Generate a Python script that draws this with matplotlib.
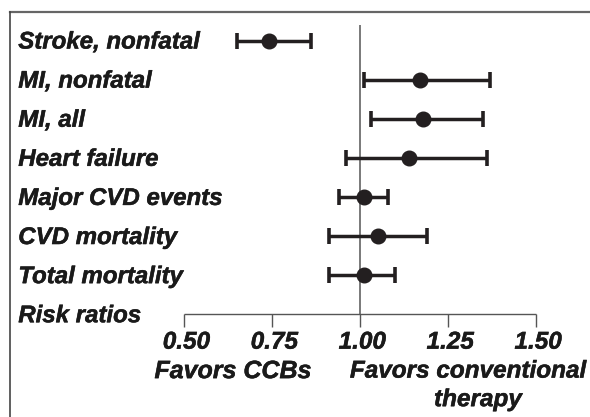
import matplotlib
matplotlib.use('Agg')
import matplotlib.pyplot as plt
import matplotlib.patheffects as pe
from matplotlib.lines import Line2D

outcomes = ['Stroke, nonfatal', 'MI, nonfatal', 'MI, all', 'Heart failure',
            'Major CVD events', 'CVD mortality', 'Total mortality']
rr = [0.74, 1.17, 1.18, 1.14, 1.01, 1.05, 1.01]
ci_low = [0.65, 1.01, 1.03, 0.96, 0.94, 0.91, 0.91]
ci_high = [0.86, 1.37, 1.35, 1.36, 1.08, 1.19, 1.10]
tick_vals = [0.50, 0.75, 1.00, 1.25, 1.50]
tick_labels = ['0.50', '0.75', '1.00', '1.25', '1.50']

plt.rcParams['font.family'] = ['Liberation Sans', 'DejaVu Sans']
txt = '#1a1a1a'
heavy = [pe.withStroke(linewidth=0.35, foreground=txt)]
style = dict(fontweight='bold', fontstyle='italic', color=txt, path_effects=heavy)

fig = plt.figure(figsize=(5.9, 4.17), dpi=100)
ax = fig.add_axes([0, 0, 1, 1])
ax.set_xlim(-0.024, 1.6535)
ax.set_ylim(9.624, -1.041)
ax.axis('off')

rows = list(range(len(outcomes)))
axis_row = len(outcomes)

# reference line at RR = 1
ax.vlines(1.0, -0.4, axis_row, color='#555555', lw=1.1, zorder=1)

# point estimates with CIs
lo = [r - l for r, l in zip(rr, ci_low)]
hi = [h - r for r, h in zip(rr, ci_high)]
ax.errorbar(rr, rows, xerr=[lo, hi], fmt='o', color='#231f20', ms=10.5,
            elinewidth=2.5, capsize=5.5, capthick=2.6, zorder=3)

# bottom scale
ax.hlines(axis_row, tick_vals[0], tick_vals[-1], color='#555555', lw=1.0)
ax.vlines(tick_vals, axis_row, axis_row + 0.32, color='#555555', lw=1.0)
for v, lab in zip(tick_vals, tick_labels):
    ax.text(v + 0.006, axis_row + 0.71, lab, ha='center', va='center',
            fontsize=17.5, **style)

# row labels
tr = ax.get_yaxis_transform()
for i, name in enumerate(outcomes + ['Risk ratios']):
    ax.text(0.031, i + 0.2, name, transform=tr, ha='left', va='baseline',
            fontsize=17.3, **style)

ax.text(0.638, axis_row + 1.45, 'Favors CCBs', ha='center', va='center',
        fontsize=18, **style)
ax.text(1.307, axis_row + 1.45, 'Favors conventional', ha='center',
        va='center', fontsize=17.5, **style)
ax.text(1.335, axis_row + 2.18, 'therapy', ha='center', va='center',
        fontsize=17.5, **style)

# frame (top and left only)
W, H = 590, 417
fig.add_artist(Line2D([10 / W, 1], [1 - 12 / H, 1 - 12 / H], color='#666666', lw=1.6))
fig.add_artist(Line2D([10 / W, 10 / W], [0, 1 - 12 / H], color='#444444', lw=1.2))

fig.savefig('out.png', dpi=100)
